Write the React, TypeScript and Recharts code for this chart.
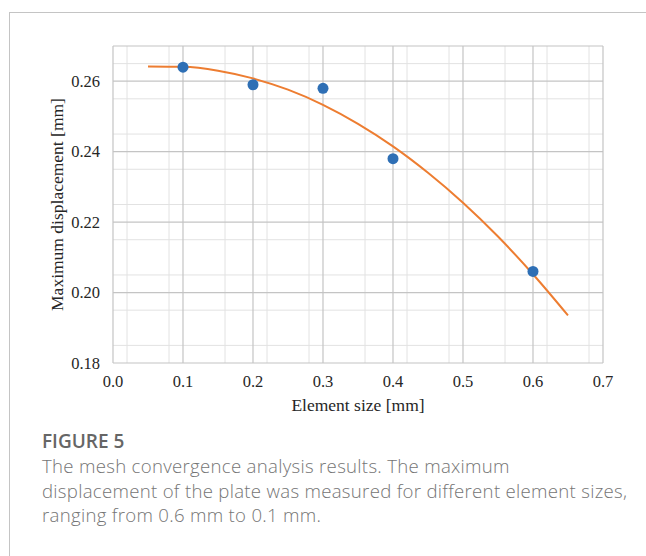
import { CartesianGrid, ComposedChart, Label, Line, Scatter, XAxis, YAxis } from "recharts";

// measured max displacement per element size
const elementSizes = [0.1, 0.2, 0.3, 0.4, 0.6];
const displacements = [0.264, 0.259, 0.258, 0.238, 0.206];

// polynomial trend line
const trendSizes = [0.05, 0.1, 0.15, 0.2, 0.25, 0.3, 0.35, 0.4, 0.45, 0.5, 0.55, 0.6, 0.65];
const trendValues = [0.2642, 0.2641, 0.263, 0.2608, 0.2576, 0.2533, 0.2479, 0.2415, 0.234, 0.2255, 0.2159, 0.2052, 0.1935];

const xTicks = [0, 0.1, 0.2, 0.3, 0.4, 0.5, 0.6, 0.7];
const yTicks = [0.18, 0.2, 0.22, 0.24, 0.26];
const xMajorGrid = [0, 0.1, 0.2, 0.3, 0.4, 0.5, 0.6, 0.7];
const yMajorGrid = [0.18, 0.2, 0.22, 0.24, 0.26, 0.27];
const xMinorGrid = [
  0.02, 0.04, 0.06, 0.08, 0.12, 0.14, 0.16, 0.18, 0.22, 0.24, 0.26, 0.28, 0.32, 0.34, 0.36, 0.38,
  0.42, 0.44, 0.46, 0.48, 0.52, 0.54, 0.56, 0.58, 0.62, 0.64, 0.66, 0.68,
];
const yMinorGrid = [0.185, 0.19, 0.195, 0.205, 0.21, 0.215, 0.225, 0.23, 0.235, 0.245, 0.25, 0.255, 0.265];

const points = elementSizes.map((x, i) => ({ x, y: displacements[i] }));
const trend = trendSizes.map((x, i) => ({ x, y: trendValues[i] }));

const serif = "'Liberation Serif', 'Times New Roman', serif";

function XTick({ x, y, payload }: any) {
  return (
    <text x={x} y={y} dy="0.75em" textAnchor="middle" fill="#262626" fontSize={16.5} fontFamily={serif}>
      {Number(payload.value).toFixed(1)}
    </text>
  );
}

function YTick({ x, y, payload }: any) {
  return (
    <text x={x} y={y} dy="0.35em" textAnchor="end" fill="#262626" fontSize={16.5} fontFamily={serif}>
      {Number(payload.value).toFixed(2)}
    </text>
  );
}

export default function App() {
  return (
    <div style={{ position: "relative", width: 646, height: 556, background: "#fff", overflow: "hidden" }}>
      <style>{"body{margin:0}"}</style>
      <div
        style={{
          position: "absolute",
          left: 9,
          top: 12,
          width: 700,
          height: 600,
          borderLeft: "1px solid #c4c4c4",
          borderTop: "1px solid #c4c4c4",
        }}
      />
      <div style={{ position: "absolute", left: 0, top: 0 }}>
        <ComposedChart width={646} height={420} margin={{ top: 46, right: 43, bottom: 12, left: 40 }}>
          <CartesianGrid
            stroke="#e2e2e2"
            strokeWidth={1}
            horizontalValues={yMinorGrid}
            verticalValues={xMinorGrid}
          />
          <CartesianGrid
            stroke="#c4c4c4"
            strokeWidth={1.2}
            horizontalValues={yMajorGrid}
            verticalValues={xMajorGrid}
          />
          <XAxis
            type="number"
            dataKey="x"
            domain={[0, 0.7]}
            ticks={xTicks}
            tick={<XTick />}
            tickLine={false}
            axisLine={false}
            tickSize={0}
            tickMargin={12}
            height={45}
            allowDataOverflow
          >
            <Label
              value="Element size [mm]"
              position="insideBottom"
              offset={-3}
              style={{ fill: "#262626", fontSize: 17.5, fontFamily: serif }}
            />
          </XAxis>
          <YAxis
            type="number"
            dataKey="y"
            domain={[0.18, 0.27]}
            ticks={yTicks}
            tick={<YTick />}
            tickLine={false}
            axisLine={false}
            tickSize={0}
            tickMargin={13}
            width={73}
            allowDataOverflow
          >
            <Label
              value="Maximum displacement [mm]"
              angle={-90}
              position="center"
              dx={-20}
              style={{ fill: "#262626", fontSize: 17.5, fontFamily: serif, textAnchor: "middle" }}
            />
          </YAxis>
          <Line
            data={trend}
            dataKey="y"
            type="monotone"
            stroke="#ed7d31"
            strokeWidth={2}
            dot={false}
            activeDot={false}
            isAnimationActive={false}
          />
          <Scatter data={points} dataKey="y" fill="#2e6fb5" isAnimationActive={false} shape={(p: any) => <circle cx={p.cx} cy={p.cy} r={5.5} fill="#2e6fb5" />} />
        </ComposedChart>
      </div>
      <div
        style={{
          position: "absolute",
          left: 42,
          top: 429,
          fontFamily: "'Open Sans', 'Noto Sans', sans-serif",
          color: "#757575",
        }}
      >
        <div style={{ fontSize: 19, fontWeight: 600, color: "#666", lineHeight: "25px" }}>FIGURE 5</div>
        <div style={{ fontSize: 18.6, fontWeight: 300, lineHeight: "24.5px", whiteSpace: "nowrap", letterSpacing: 0.3 }}>
          The mesh convergence analysis results. The maximum
          <br />
          displacement of the plate was measured for different element sizes,
          <br />
          ranging from 0.6 mm to 0.1 mm.
        </div>
      </div>
    </div>
  );
}
